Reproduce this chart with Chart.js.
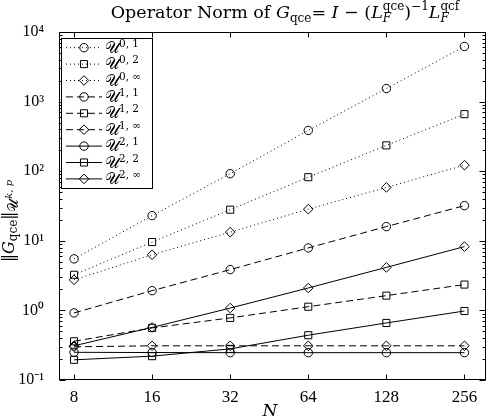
<!DOCTYPE html>
<html><head><meta charset="utf-8">
<script src="https://cdn.jsdelivr.net/npm/chart.js@4/dist/chart.umd.min.js"></script>
<style>html,body{margin:0;padding:0;background:#fff}canvas{display:block}</style>
</head><body>
<canvas id="c" width="492" height="418"></canvas>
<script>
// ---- data ----
const N = [8, 16, 32, 64, 128, 256];
const U01  = [5.5, 23, 92, 385, 1540, 6200];
const U02  = [3.25, 9.6, 28, 82, 235, 660];
const U0I  = [2.75, 6.3, 13.3, 28.5, 58.5, 122];
const U11  = [0.92, 1.92, 3.85, 7.9, 16.0, 32];
const U12  = [0.36, 0.56, 0.78, 1.13, 1.63, 2.35];
const U1I  = [0.30, 0.31, 0.31, 0.31, 0.31, 0.31];
const U21  = [0.25, 0.248, 0.247, 0.247, 0.247, 0.247];
const U22  = [0.195, 0.22, 0.28, 0.44, 0.66, 0.98];
const U2I  = [0.31, 0.57, 1.08, 2.1, 4.15, 8.25];
const seriesSup = ['0, 1', '0, 2', '0, ∞', '1, 1', '1, 2', '1, ∞', '2, 1', '2, 2', '2, ∞'];
const yTicks = [0.1, 1, 10, 100, 1000, 10000];
const yTickLabels = ['10⁻¹', '10⁰', '10¹', '10²', '10³', '10⁴'];

// ---- styles ----
const DOT = [1, 3], DASH = [7, 4], SOLID = [];
const series = [
  {v: U01, dash: DOT, pt: 'circle', r: 4.2},
  {v: U02, dash: DOT, pt: 'rect', r: 5},
  {v: U0I, dash: DOT, pt: 'rectRot', r: 4.8},
  {v: U11, dash: DASH, pt: 'circle', r: 4.2},
  {v: U12, dash: DASH, pt: 'rect', r: 5},
  {v: U1I, dash: DASH, pt: 'rectRot', r: 4.8},
  {v: U21, dash: SOLID, pt: 'circle', r: 4.2},
  {v: U22, dash: SOLID, pt: 'rect', r: 5},
  {v: U2I, dash: SOLID, pt: 'rectRot', r: 4.8}
];

const SERIF = '"DejaVu Serif"';
function fontOf(s) { return (s.it ? 'italic ' : '') + (s.size || 16) + 'px ' + (s.fam || SERIF); }
function segWidth(ctx, s) {
  if (s.stack) { let m = 0; for (const t of s.stack) { ctx.font = fontOf(t); m = Math.max(m, ctx.measureText(t.t).width); } return m; }
  ctx.font = fontOf(s); return ctx.measureText(s.t).width;
}
function richWidth(ctx, segs) { return segs.reduce((a, s) => a + segWidth(ctx, s), 0); }
function drawRich(ctx, segs, x, y) {
  let cx = x;
  for (const s of segs) {
    const w = segWidth(ctx, s);
    const parts = s.stack ? s.stack : [s];
    for (const p of parts) { ctx.font = fontOf(p); ctx.fillText(p.t, cx, y + (p.dy || 0)); }
    cx += w;
  }
}

const extras = {
  id: 'extras',
  afterDraw(chart) {
    const ctx = chart.ctx, xs = chart.scales.x, ys = chart.scales.y;
    const {left, right, top, bottom} = chart.chartArea;
    const L = Math.round(left) + 0.5, R = Math.round(right) - 0.5, T = Math.round(top) + 0.5, B = Math.round(bottom) - 0.5;
    ctx.save();
    ctx.strokeStyle = '#000'; ctx.fillStyle = '#000'; ctx.lineWidth = 1; ctx.setLineDash([]);
    ctx.beginPath();
    // x ticks inward
    for (const v of N) {
      const px = Math.round(xs.getPixelForValue(v)) + 0.5;
      ctx.moveTo(px, B); ctx.lineTo(px, B - 5);
      ctx.moveTo(px, T); ctx.lineTo(px, T + 5);
    }
    // y ticks inward
    for (let k = -1; k <= 4; k++) {
      const py = Math.round(ys.getPixelForValue(Math.pow(10, k))) + 0.5;
      ctx.moveTo(L, py); ctx.lineTo(L + 6, py);
      ctx.moveTo(R, py); ctx.lineTo(R - 6, py);
      if (k < 4) for (let m = 2; m <= 9; m++) {
        const q = Math.round(ys.getPixelForValue(m * Math.pow(10, k))) + 0.5;
        ctx.moveTo(L, q); ctx.lineTo(L + 3, q);
        ctx.moveTo(R, q); ctx.lineTo(R - 3, q);
      }
    }
    ctx.stroke();
    ctx.strokeRect(L, T, R - L, B - T);

    // legend
    const bx = 61.5, by = 38.5, bw = 91, bh = 150;
    ctx.fillStyle = '#fff'; ctx.fillRect(bx, by, bw, bh);
    ctx.strokeRect(bx, by, bw, bh);
    ctx.fillStyle = '#000';
    chart.data.datasets.forEach((d, i) => {
      const y = 47.7 + i * 16.4;
      ctx.save();
      ctx.setLineDash(d.borderDash); ctx.lineWidth = 1; ctx.strokeStyle = '#000';
      ctx.beginPath(); ctx.moveTo(66, y); ctx.lineTo(102, y); ctx.stroke();
      ctx.setLineDash([]);
      ctx.fillStyle = 'rgba(0,0,0,0)';
      Chart.helpers.drawPoint(ctx, {pointStyle: d.pointStyle, radius: d.pointRadius, rotation: 0, borderWidth: 1}, 84, y);
      ctx.restore();
      ctx.textAlign = 'left'; ctx.textBaseline = 'alphabetic'; ctx.fillStyle = '#000';
      drawRich(ctx, [{t: '𝒰', size: 16}, {t: seriesSup[i], size: 10.5, dy: -6}], 105, y + 5);
    });

    // title
    ctx.textAlign = 'left'; ctx.textBaseline = 'alphabetic';
    const title = [
      {t: 'Operator Norm of ', size: 17.5}, {t: 'G', it: true, size: 17.5}, {t: 'qce', size: 12, dy: 4}, {t: '= ', size: 17.5},
      {t: 'I', it: true, size: 17.5}, {t: ' − (', size: 17.5}, {t: 'L', it: true, size: 17.5},
      {stack: [{t: 'qce', size: 12, dy: -8}, {t: 'F', size: 12, it: true, dy: 4}]},
      {t: ')', size: 17.5}, {t: '−1', size: 12, dy: -8}, {t: 'L', it: true, size: 17.5},
      {stack: [{t: 'qcf', size: 12, dy: -8}, {t: 'F', size: 12, it: true, dy: 4}]}
    ];
    const tw = richWidth(ctx, title);
    drawRich(ctx, title, 285 - tw / 2, 18);

    // x label
    ctx.font = 'italic 17px ' + SERIF; ctx.textAlign = 'center';
    ctx.fillText('N', 270, 416);

    // y label
    ctx.save();
    ctx.translate(14, 221); ctx.rotate(-Math.PI / 2);
    ctx.textAlign = 'left';
    const yl = [{t: '‖', size: 16}, {t: 'G', it: true, size: 16}, {t: 'qce', size: 12, dy: 3}, {t: '‖', size: 16},
      {t: '𝒰', size: 14, dy: 4}, {t: 'k, p', size: 10, it: true, dy: -2}];
    const yw = richWidth(ctx, yl);
    drawRich(ctx, yl, -yw / 2, 0);
    ctx.restore();
    ctx.restore();
  }
};

new Chart(document.getElementById('c'), {
  type: 'line',
  data: {
    datasets: series.map((s, i) => ({
      label: 'U' + seriesSup[i],
      data: N.map((n, j) => ({x: n, y: s.v[j]})),
      borderColor: '#000', borderWidth: 1, borderDash: s.dash,
      pointStyle: s.pt, pointRadius: s.r, pointBorderColor: '#000',
      pointBackgroundColor: 'rgba(0,0,0,0)', pointBorderWidth: 1,
      fill: false, tension: 0
    }))
  },
  options: {
    responsive: false, animation: false, devicePixelRatio: 1,
    layout: {padding: {top: 32, right: 4, left: 0, bottom: 0}},
    plugins: {legend: {display: false}, title: {display: false}, tooltip: {enabled: false}},
    scales: {
      x: {
        type: 'logarithmic', min: 7, max: 310,
        grid: {display: false, drawTicks: false}, border: {display: false},
        ticks: {autoSkip: false, maxRotation: 0, minRotation: 0, color: '#000', padding: 7,
          font: {family: 'Liberation Serif', size: 17}, callback: v => String(v)},
        afterBuildTicks: s => { s.ticks = N.map(v => ({value: v})); },
        afterFit: s => { s.height = 38; s.paddingLeft = 0; s.paddingRight = 0; }
      },
      y: {
        type: 'logarithmic', min: 0.1, max: 10000,
        grid: {display: false, drawTicks: false}, border: {display: false},
        ticks: {autoSkip: false, color: '#000', padding: 15,
          font: {family: 'Liberation Serif', size: 16},
          callback: (v) => yTickLabels[yTicks.findIndex(t => Math.abs(t - v) / t < 1e-6)]},
        afterBuildTicks: s => { s.ticks = yTicks.map(v => ({value: v})); },
        afterFit: s => { s.width = 59; s.paddingTop = 0; s.paddingBottom = 0; }
      }
    }
  },
  plugins: [extras]
});
</script>
</body></html>
